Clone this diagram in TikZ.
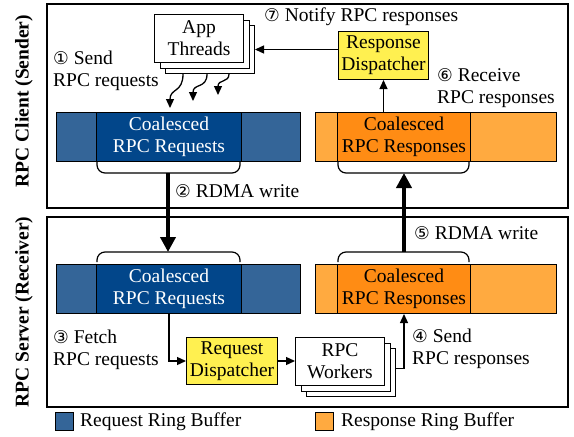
\documentclass[tikz,border=0pt]{standalone}
\usepackage{fontspec}
\setmainfont{Liberation Serif}
\newfontfamily\circfont{DejaVu Sans}[Scale=0.9]
\usetikzlibrary{arrows.meta,calc}
\newcommand\cnum[1]{{\circfont #1}}
\definecolor{reqlight}{RGB}{52,101,152}
\definecolor{reqdark}{RGB}{2,70,138}
\definecolor{resplight}{RGB}{255,170,64}
\definecolor{respdark}{RGB}{255,140,20}
\definecolor{dispyellow}{RGB}{255,240,80}
\tikzset{
  sidebox/.style={draw, line width=2pt},
  ringreq/.style={draw, line width=1pt, fill=reqlight, anchor=north west, inner sep=0},
  corereq/.style={draw, line width=1pt, fill=reqdark, text=white, align=center, anchor=north west, inner sep=0},
  ringresp/.style={draw, line width=1pt, fill=resplight, anchor=north west, inner sep=0},
  coreresp/.style={draw, line width=1pt, fill=respdark, align=center, anchor=north west, inner sep=0},
  dispbox/.style={draw, line width=1pt, fill=dispyellow, align=center, anchor=north west, inner sep=0,
    minimum width=90pt, minimum height=48pt},
  stackbox/.style={draw, line width=1pt, fill=white, align=center, anchor=north west, inner sep=0,
    minimum width=89pt, minimum height=48pt},
  bracepath/.style={line width=1.2pt, rounded corners=8pt},
  thinarrow/.style={line width=1.3pt, -{Triangle[length=9pt,width=8pt]}},
  bigarrow/.style={line width=4pt, -{Triangle[length=15pt,width=15pt]}},
  steplabel/.style={anchor=west, align=left, inner sep=0},
  sidetitle/.style={rotate=90, font=\fontsize{19.5}{22}\selectfont\bfseries, inner sep=0},
}
\begin{document}
\begin{tikzpicture}[x=1pt, y=-1pt, font=\fontsize{19.5}{22}\selectfont]
\useasboundingbox (0,0) rectangle (574,437);

% client and server frames
\node[sidebox, minimum width=521pt, minimum height=204pt, anchor=north west, inner sep=0] (client) at (46,3) {};
\node[sidebox, minimum width=521pt, minimum height=190pt, anchor=north west, inner sep=0] (server) at (46,216) {};
\node[sidetitle] (clienttitle) at (24,101) {RPC Client (Sender)};
\node[sidetitle] (servertitle) at (24,312) {RPC Server (Receiver)};

% ring buffers on the client
\node[ringreq, minimum width=244pt, minimum height=49pt] (cqring) at (56,112) {};
\node[corereq, minimum width=145pt, minimum height=49pt] (cqcore) at (96,112) {Coalesced\\RPC Requests};
\node[ringresp, minimum width=241pt, minimum height=49pt] (csring) at (315,112) {};
\node[coreresp, minimum width=133pt, minimum height=49pt] (cscore) at (337,112) {Coalesced\\RPC Responses};

% ring buffers on the server
\node[ringreq, minimum width=244pt, minimum height=49pt] (sqring) at (56,264) {};
\node[corereq, minimum width=145pt, minimum height=49pt] (sqcore) at (96,264) {Coalesced\\RPC Requests};
\node[ringresp, minimum width=241pt, minimum height=49pt] (ssring) at (315,264) {};
\node[coreresp, minimum width=133pt, minimum height=49pt] (sscore) at (337,264) {Coalesced\\RPC Responses};

% braces around the coalesced regions
\coordinate (cqbrace) at (168,173);
\coordinate (sqbrace) at (168,252);
\coordinate (csbrace) at (404,173);
\coordinate (ssbrace) at (404,252);
\draw[bracepath] (97,162) |- (cqbrace) -| (240,162);
\draw[bracepath] (97,262) |- (sqbrace) -| (240,262);
\draw[bracepath] (338,162) |- (csbrace) -| (469,162);
\draw[bracepath] (338,262) |- (ssbrace) -| (469,262);

% RDMA transfers
\draw[bigarrow] (cqbrace) -- (sqbrace);
\draw[bigarrow] (ssbrace) -- (csbrace);

% application threads
\node[stackbox] (thr3) at (165,25) {};
\node[stackbox] (thr2) at (159.5,19.5) {};
\node[stackbox] (threads) at (154,14) {App\\Threads};

% response dispatcher
\node[dispbox] (respdisp) at (338,31) {Response\\Dispatcher};

% request dispatcher and workers
\node[dispbox, minimum width=91pt, minimum height=47pt] (reqdisp) at (186,337) {Request\\Dispatcher};
\node[stackbox] (wk3) at (306,348) {};
\node[stackbox] (wk2) at (300.5,342.5) {};
\node[stackbox] (workers) at (295,337) {RPC\\Workers};

% client-side arrows
\coordinate (t1) at ($(thr3.south west)+(18,0)$);
\coordinate (t2) at ($(thr3.south west)+(42,0)$);
\coordinate (t3) at ($(thr3.south west)+(64,0)$);
\coordinate (e1) at (170,108);
\coordinate (e2) at (193,101);
\coordinate (e3) at (218,95);
\draw[thinarrow] (t1) .. controls (183,93) and (170,88) .. (e1);
\draw[thinarrow] (t2) .. controls (207,89) and (193,83) .. (e2);
\draw[thinarrow] (t3) .. controls (229,83) and (218,79) .. (e3);
\draw[thinarrow] (respdisp.west |- thr3.east) -- (thr3.east);
\draw[thinarrow] (respdisp.south |- csring.north) -- (respdisp.south);

% server-side arrows
\draw[thinarrow] (sqcore.south) |- (reqdisp.west);
\draw[thinarrow] (reqdisp.east) -- (reqdisp.east -| workers.west);
\draw[thinarrow] ([yshift=4pt]wk3.east) -| (sscore.south);

% step labels
\node[steplabel] (l1) at (53,71) {\cnum{①} Send\\RPC requests};
\node[steplabel] (l2) at (175,191) {\cnum{②} RDMA write};
\node[steplabel] (l3) at (53,350) {\cnum{③} Fetch\\RPC requests};
\node[steplabel] (l4) at (412,349) {\cnum{④} Send\\RPC responses};
\node[steplabel] (l5) at (414,233) {\cnum{⑤} RDMA write};
\node[steplabel] (l6) at (437,88) {\cnum{⑥} Receive\\RPC responses};
\node[steplabel] (l7) at (264,17) {\cnum{⑦} Notify RPC responses};

% legend
\node[draw, line width=1pt, fill=reqlight, minimum size=18pt, inner sep=0] (legreq) at (64,421) {};
\node[anchor=west, inner sep=0] (legreqtext) at (80,422) {Request Ring Buffer};
\node[draw, line width=1pt, fill=resplight, minimum size=18pt, inner sep=0] (legresp) at (324.5,421) {};
\node[anchor=west, inner sep=0] (legresptext) at (341,422) {Response Ring Buffer};
\end{tikzpicture}
\end{document}
